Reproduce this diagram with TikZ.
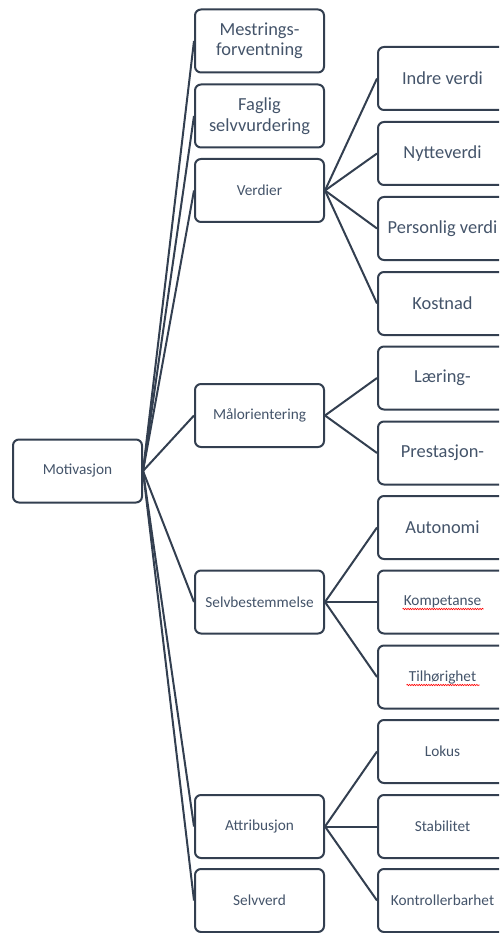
\documentclass[tikz,border=0pt]{standalone}
\usepackage{fontspec}
\setmainfont{Carlito}
\usepackage{xcolor}
\usepackage{tikz}
\usetikzlibrary{decorations.pathmorphing}

\definecolor{boxline}{RGB}{51,63,80}
\definecolor{boxtext}{RGB}{68,84,106}

\tikzset{
  box/.style={draw=boxline, line width=2pt, rounded corners=6pt, fill=white,
    minimum width=129pt, minimum height=63pt, align=center, text=boxtext,
    inner sep=2pt, font=\fontsize{15.3}{18}\selectfont},
  big/.style={font=\fontsize{18.4}{20.5}\selectfont},
  link/.style={draw=boxline, line width=2pt},
  spell/.style={draw=red, line width=0.6pt, decorate,
    decoration={snake, amplitude=0.7pt, segment length=2.4pt}}
}

\begin{document}
\begin{tikzpicture}[x=1pt,y=-1pt]
  \useasboundingbox (0,0) rectangle (499,933);
  \clip (0,0) rectangle (499,933);
  % root
  \node[box] (mot) at (77.5,471) {Motivasjon};
  % second level
  \node[box,big] (mes) at (259.5,41) {Mestrings-\\forventning};
  \node[box,big] (fag) at (259.5,116) {Faglig\\selvvurdering};
  \node[box] (ver) at (259.5,190.5) {Verdier};
  \node[box] (mal) at (259.5,415.5) {Målorientering};
  \node[box] (sel) at (259.5,602) {Selvbestemmelse};
  \node[box] (att) at (259.5,826.5) {Attribusjon};
  \node[box] (svd) at (259.5,900.5) {Selvverd};
  % third level
  \node[box,big] (ind) at (442.5,78.5) {Indre verdi};
  \node[box,big] (nyt) at (442.5,153.5) {Nytteverdi};
  \node[box,big] (per) at (442.5,228.5) {Personlig verdi};
  \node[box,big] (kos) at (442.5,303.5) {Kostnad};
  \node[box,big] (lae) at (442.5,378) {Læring-};
  \node[box,big] (pre) at (442.5,453) {Prestasjon-};
  \node[box,big] (aut) at (442.5,527.5) {Autonomi};
  \node[box] (kom) at (442.5,602) {Kompetanse};
  \node[box] (til) at (442.5,677) {Tilhørighet};
  \node[box] (lok) at (442.5,751.5) {Lokus};
  \node[box] (sta) at (442.5,826.5) {Stabilitet};
  \node[box] (kon) at (442.5,900.5) {Kontrollerbarhet};
  % spelling marks
  \draw[spell] ([shift={(-40,7)}]kom.center) -- ([shift={(41,7)}]kom.center);
  \draw[spell] ([shift={(-36,8)}]til.center) -- ([shift={(37,8)}]til.center);
  % links
  \path[link]
    (mot.east) edge (mes.west)
    (mot.east) edge (fag.west)
    (mot.east) edge (ver.west)
    (mot.east) edge (mal.west)
    (mot.east) edge (sel.west)
    (mot.east) edge (att.west)
    (mot.east) edge (svd.west);
  \path[link]
    (ver.east) edge (ind.west)
    (ver.east) edge (nyt.west)
    (ver.east) edge (per.west)
    (ver.east) edge (kos.west)
    (mal.east) edge (lae.west)
    (mal.east) edge (pre.west)
    (sel.east) edge (aut.west)
    (sel.east) edge (kom.west)
    (sel.east) edge (til.west)
    (att.east) edge (lok.west)
    (att.east) edge (sta.west)
    (att.east) edge (kon.west);
\end{tikzpicture}
\end{document}
